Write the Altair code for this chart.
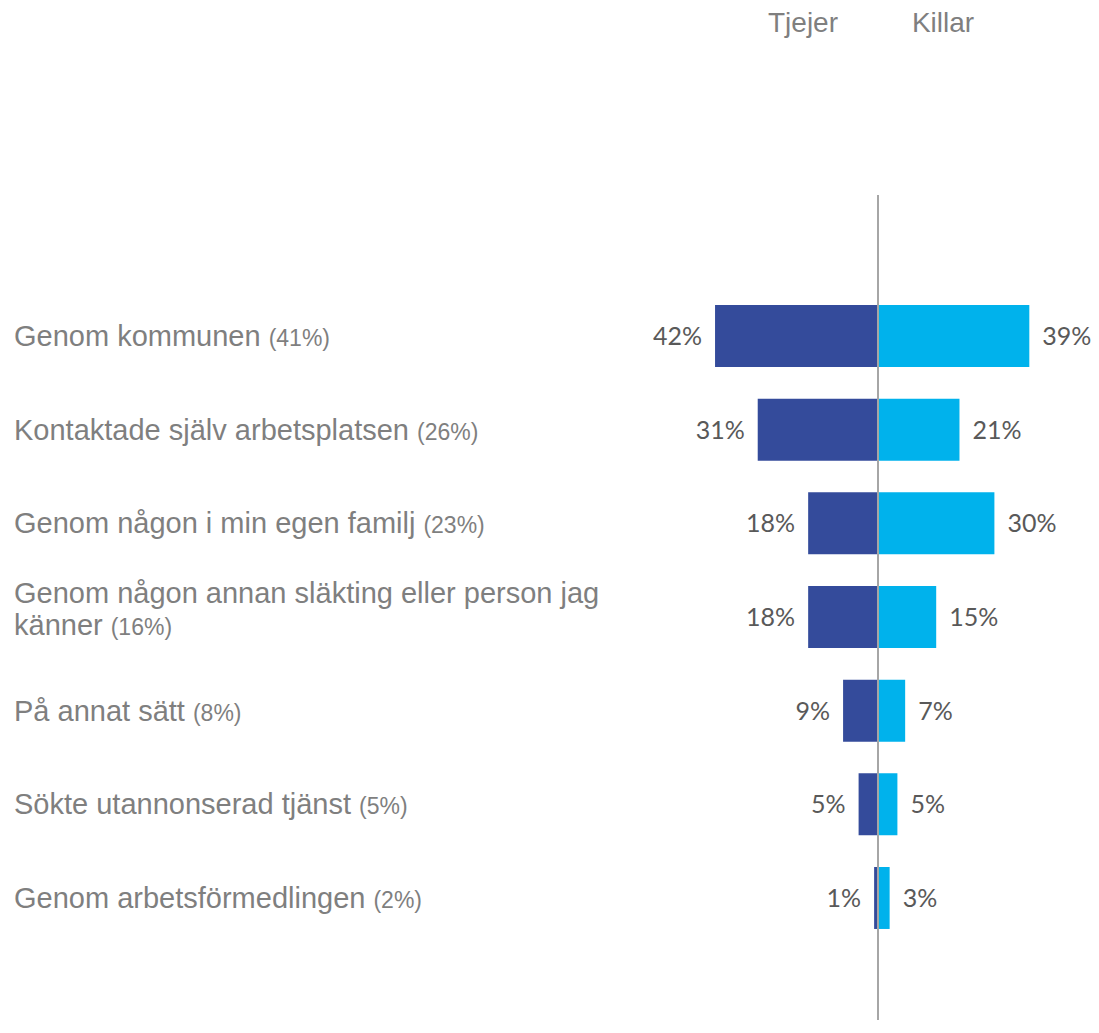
import altair as alt
import pandas as pd

# ---- data ----
categories = [
    "Genom kommunen",
    "Kontaktade själv arbetsplatsen",
    "Genom någon i min egen familj",
    "Genom någon annan släkting eller person jag känner",
    "På annat sätt",
    "Sökte utannonserad tjänst",
    "Genom arbetsförmedlingen",
]
totals = [41, 26, 23, 16, 8, 5, 2]
tjejer = [42, 31, 18, 18, 9, 5, 1]
killar = [39, 21, 30, 15, 7, 5, 3]
groups = ["Tjejer", "Killar"]

# ---- styling ----
C_TJ = "#344B9B"
C_KI = "#00B2EC"
C_TXT = "#7F7F7F"
C_VAL = "#595959"
C_RULE = "#A6A6A6"
LABEL_FS = 29
PAREN_FS = 23
LABEL_X = 6
WRAP = 610

# Arial / Liberation Sans advance widths (per 1000 em)
AW = {" ": 278, "(": 333, ")": 333, "%": 889, "G": 778, "K": 667, "P": 667, "S": 667,
      "a": 556, "b": 556, "c": 500, "d": 556, "e": 556, "f": 278, "g": 556, "i": 222,
      "j": 222, "k": 500, "l": 222, "m": 833, "n": 556, "o": 556, "p": 556, "r": 333,
      "s": 500, "t": 278, "u": 556, "v": 500, "å": 556, "ä": 556, "ö": 556}


def tw(s, fs):
    return sum(AW.get(ch, 556) for ch in s) * fs / 1000.0


# wrap labels
rows = []
for cat, tot in zip(categories, totals):
    paren = f"({tot}%)"
    words = cat.split(" ")
    lines = [""]
    for w in words:
        cand = (lines[-1] + " " + w).strip()
        if tw(cand, LABEL_FS) > WRAP and lines[-1]:
            lines.append(w)
        else:
            lines[-1] = cand
    n = len(lines)
    for i, ln in enumerate(lines):
        last = i == n - 1
        if n == 1:
            pos = "single"
        else:
            pos = "first" if i == 0 else "second"
        rows.append({
            "cat": cat,
            "line": ln,
            "pos": pos,
            "paren": paren if last else "",
            "px": LABEL_X + tw(ln, LABEL_FS) + tw(" ", LABEL_FS),
        })
labels = pd.DataFrame(rows)

bars = pd.DataFrame(
    [{"cat": c, "group": "Tjejer", "v": v, "signed": -v, "zero": 0, "txt": f"{v}%"}
     for c, v in zip(categories, tjejer)]
    + [{"cat": c, "group": "Killar", "v": v, "signed": v, "zero": 0, "txt": f"{v}%"}
       for c, v in zip(categories, killar)]
)

W, H = 1083, 1012
xscale = alt.Scale(domain=[-50, 50], range=[676, 1064])
yscale = alt.Scale(domain=categories, range=[281.2, 936.8], paddingInner=0.338, paddingOuter=0.169)
Y = alt.Y("cat:N", scale=yscale, axis=None, sort=categories)

bar_layer = alt.Chart(bars).mark_bar().encode(
    x=alt.X("signed:Q", scale=xscale, axis=None),
    x2="zero:Q",
    y=Y,
    color=alt.Color("group:N", scale=alt.Scale(domain=groups, range=[C_TJ, C_KI]), legend=None),
)

val_tj = alt.Chart(bars).transform_filter(alt.datum.group == "Tjejer").mark_text(
    align="right", baseline="middle", dx=-13, dy=1, font="Lato", fontSize=25, color=C_VAL
).encode(x=alt.X("signed:Q", scale=xscale, axis=None), y=Y, text="txt:N")

val_ki = alt.Chart(bars).transform_filter(alt.datum.group == "Killar").mark_text(
    align="left", baseline="middle", dx=13, dy=1, font="Lato", fontSize=25, color=C_VAL
).encode(x=alt.X("signed:Q", scale=xscale, axis=None), y=Y, text="txt:N")

rule = alt.Chart(pd.DataFrame({"zero": [0]})).mark_rule(color=C_RULE, strokeWidth=2).encode(
    x=alt.X("zero:Q", scale=xscale, axis=None),
    y=alt.value(187),
    y2=alt.value(H),
)

dys = {"single": 10, "first": -14, "second": 18}
label_layers = []
for pos, dy in dys.items():
    base = alt.Chart(labels).transform_filter(alt.datum.pos == pos)
    label_layers.append(
        base.mark_text(align="left", baseline="alphabetic", dy=dy, font="Liberation Sans",
                       fontSize=LABEL_FS, color=C_TXT).encode(
            x=alt.value(LABEL_X), y=Y, text="line:N")
    )
    label_layers.append(
        base.mark_text(align="left", baseline="alphabetic", dy=dy, font="Liberation Sans",
                       fontSize=PAREN_FS, color=C_TXT).encode(
            x=alt.X("px:Q", scale=None), y=Y, text="paren:N")
    )

hdr = pd.DataFrame({"g": groups})
hdr_tj = alt.Chart(hdr).transform_filter(alt.datum.g == "Tjejer").mark_text(
    align="center", baseline="alphabetic", font="Liberation Sans", fontSize=28, color=C_TXT
).encode(x=alt.value(795), y=alt.value(24), text="g:N")
hdr_ki = alt.Chart(hdr).transform_filter(alt.datum.g == "Killar").mark_text(
    align="center", baseline="alphabetic", font="Liberation Sans", fontSize=28, color=C_TXT
).encode(x=alt.value(935), y=alt.value(24), text="g:N")

chart = alt.layer(
    bar_layer, rule, val_tj, val_ki, *label_layers, hdr_tj, hdr_ki
).properties(
    width=W, height=H, padding=0, autosize=alt.AutoSizeParams(type="none"),
    background="white",
).configure_view(stroke=None).resolve_scale(x="shared", y="shared")

chart.save("out.html", embed_options={"renderer": "svg", "actions": False})
